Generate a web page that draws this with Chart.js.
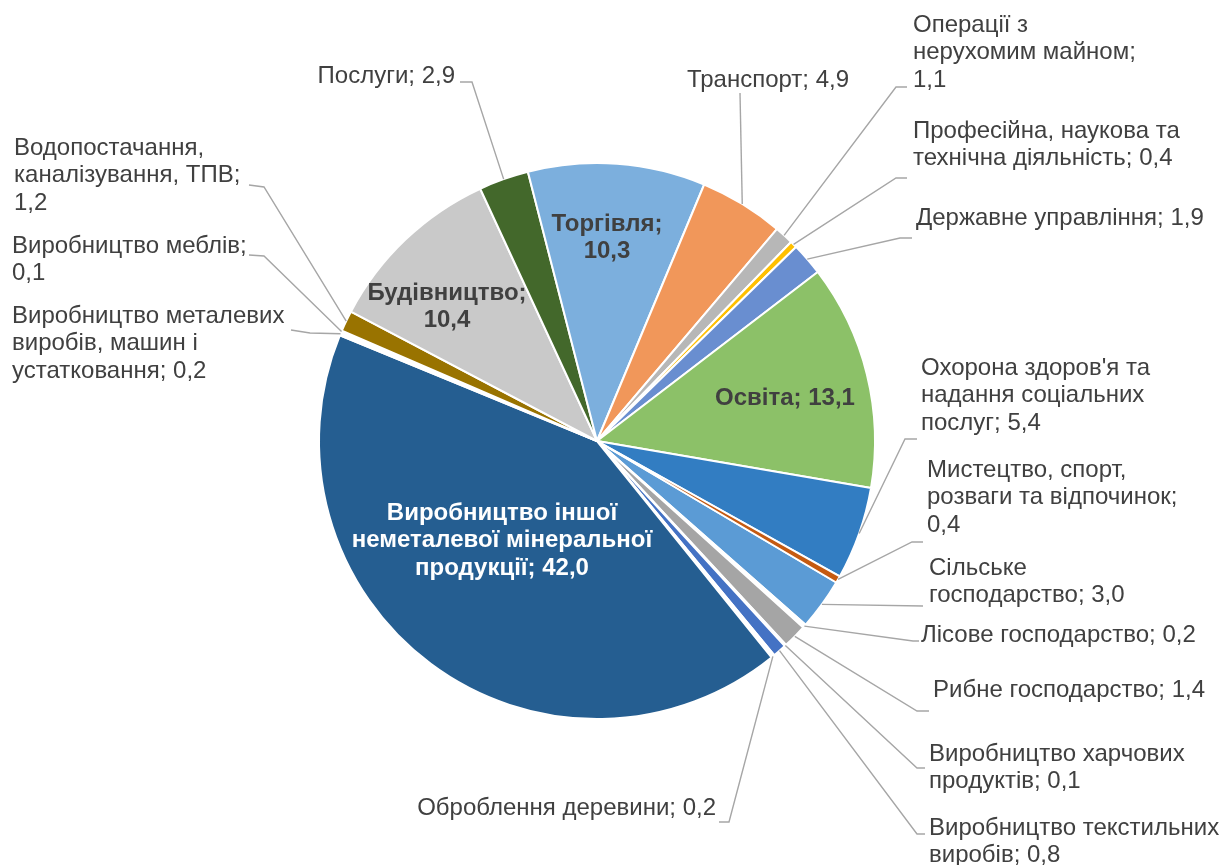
<!DOCTYPE html>
<html lang="uk">
<head>
<meta charset="utf-8">
<title>Структура</title>
<script src="https://cdn.jsdelivr.net/npm/chart.js@4.4.1/dist/chart.umd.min.js"></script>
<style>
  html, body { margin: 0; padding: 0; background: #fff; }
  canvas { display: block; }
</style>
</head>
<body>
<canvas id="pieChart" width="1219" height="865"></canvas>
<script>
// категорії (за годинниковою стрілкою)
const CATEGORIES = [
    'Сільське господарство',
    'Лісове господарство',
    'Рибне господарство',
    'Виробництво харчових продуктів',
    'Виробництво текстильних виробів',
    'Оброблення деревини',
    'Виробництво іншої неметалевої мінеральної продукції',
    'Виробництво металевих виробів, машин і устатковання',
    'Виробництво меблів',
    'Водопостачання, каналізування, ТПВ',
    'Будівництво',
    'Послуги',
    'Торгівля',
    'Транспорт',
    'Операції з нерухомим майном',
    'Професійна, наукова та технічна діяльність',
    'Державне управління',
    'Освіта',
    "Охорона здоров'я та надання соціальних послуг",
    'Мистецтво, спорт, розваги та відпочинок'
];

// частка, %
const VALUES = [3.0, 0.2, 1.4, 0.1, 0.8, 0.2, 42.0, 0.2, 0.1, 1.2, 10.4, 2.9, 10.3, 4.9, 1.1, 0.4, 1.9, 13.1, 5.4, 0.4];

// кольори секторів (дуже малі сектори зливаються з білою межею)
const COLORS = [
    '#5B9BD5', '#FFFFFF', '#A5A5A5', '#FFFFFF', '#4472C4', '#FFFFFF',
    '#255E91', '#FFFFFF', '#FFFFFF', '#997300', '#C9C9C9', '#43682B',
    '#7CAFDD', '#F1975A', '#B7B7B7', '#FFC000', '#698ED0', '#8CC168',
    '#327DC2', '#C55A11'
];

// розміщення підписів: скільки слів у кожному рядку, точка прив'язки, виноска
const LABEL_LAYOUT = [
    { words: [1, 2], x: 929, y: 568, align: 'left', leader: [[923, 606]] },
    { words: [3], x: 921, y: 635, align: 'left', leader: [[913, 641], [919, 641]] },
    { words: [3], x: 933, y: 690, align: 'left', leader: [[917, 711], [929, 711]] },
    { words: [2, 2], x: 929, y: 754, align: 'left', leader: [[917, 768], [925, 768]] },
    { words: [2, 2], x: 929, y: 828, align: 'left', leader: [[917, 834], [925, 834]] },
    { words: [3], x: 716, y: 808, align: 'right', leader: [[729, 822], [719, 822]] },
    { words: [2, 2, 2], x: 502, y: 513, align: 'center', inside: true, color: '#FFFFFF' },
    { words: [2, 3, 2], x: 12, y: 316, align: 'left', leader: [[310, 333], [291, 330]] },
    { words: [2, 1], x: 12, y: 246, align: 'left', leader: [[264, 256], [249, 255]] },
    { words: [1, 2, 1], x: 14, y: 148, align: 'left', leader: [[264, 187], [249, 185]] },
    { words: [1, 1], x: 447, y: 293, align: 'center', inside: true },
    { words: [2], x: 455, y: 76, align: 'right', leader: [[472, 82], [460, 82]] },
    { words: [1, 1], x: 607, y: 224, align: 'center', inside: true },
    { words: [2], x: 768, y: 80, align: 'center', leader: [[740, 93]] },
    { words: [2, 2, 1], x: 913, y: 25, align: 'left', leader: [[896, 87], [907, 87]] },
    { words: [3, 3], x: 913, y: 131, align: 'left', leader: [[896, 178], [907, 178]] },
    { words: [3], x: 916, y: 218, align: 'left', leader: [[900, 238], [912, 238]] },
    { words: [2], x: 785, y: 398, align: 'center', inside: true },
    { words: [3, 2, 2], x: 921, y: 368, align: 'left', leader: [[905, 439], [917, 439]] },
    { words: [2, 3, 1], x: 927, y: 470, align: 'left', leader: [[912, 542], [923, 542]] }
];

const FONT_FAMILY = '"Liberation Sans", Arial, sans-serif';
const FONT_SIZE = 24;
const LINE_HEIGHT = 27.6;

function labelLines(i) {
    const text = CATEGORIES[i] + '; ' + VALUES[i].toFixed(1).replace('.', ',');
    const words = text.split(' ');
    const lines = [];
    let k = 0;
    LABEL_LAYOUT[i].words.forEach(n => {
        lines.push(words.slice(k, k + n).join(' '));
        k += n;
    });
    if (k < words.length) lines[lines.length - 1] += ' ' + words.slice(k).join(' ');
    return lines;
}

const sliceLabels = {
    id: 'sliceLabels',
    afterDatasetsDraw(chart) {
        const ctx = chart.ctx;
        const meta = chart.getDatasetMeta(0);
        meta.data.forEach((arc, i) => {
            const lab = LABEL_LAYOUT[i];
            const p = arc.getProps(['x', 'y', 'startAngle', 'endAngle', 'outerRadius'], true);
            const mid = (p.startAngle + p.endAngle) / 2;

            ctx.save();
            if (lab.leader) {
                ctx.strokeStyle = '#A6A6A6';
                ctx.lineWidth = 1.4;
                ctx.beginPath();
                ctx.moveTo(p.x + Math.cos(mid) * p.outerRadius, p.y + Math.sin(mid) * p.outerRadius);
                lab.leader.forEach(pt => ctx.lineTo(pt[0], pt[1]));
                ctx.stroke();
            }
            ctx.font = (lab.inside ? 'bold ' : '') + FONT_SIZE + 'px ' + FONT_FAMILY;
            ctx.fillStyle = lab.color || '#404040';
            ctx.textAlign = lab.align;
            ctx.textBaseline = 'middle';
            labelLines(i).forEach((line, j) => {
                ctx.fillText(line, lab.x, lab.y + j * LINE_HEIGHT);
            });
            ctx.restore();
        });
    }
};

const ctx = document.getElementById('pieChart').getContext('2d');
new Chart(ctx, {
    type: 'pie',
    data: {
        labels: CATEGORIES,
        datasets: [{
            data: VALUES,
            backgroundColor: COLORS,
            borderColor: '#FFFFFF',
            borderWidth: 2
        }]
    },
    options: {
        responsive: false,
        devicePixelRatio: 1,
        animation: false,
        rotation: 120.6,
        layout: { padding: { top: 162, bottom: 145, left: 318, right: 343 } },
        plugins: {
            legend: { display: false },
            tooltip: { enabled: false }
        }
    },
    plugins: [sliceLabels]
});
</script>
</body>
</html>
